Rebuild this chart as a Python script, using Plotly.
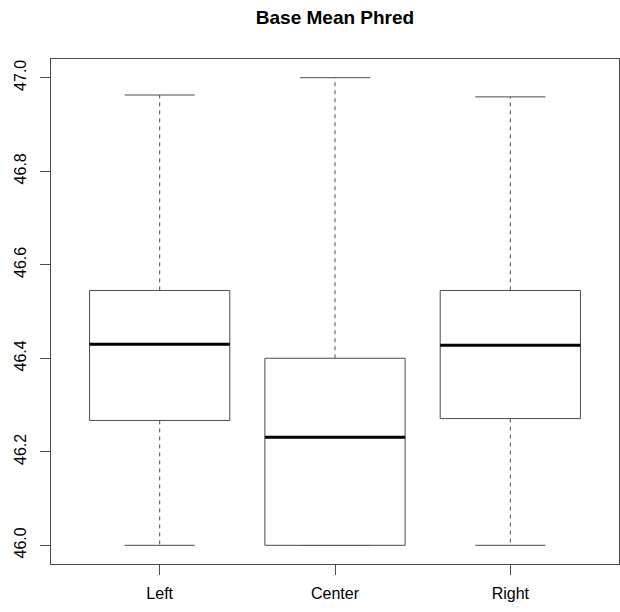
import plotly.graph_objects as go

# Five-number summaries of base mean Phred per read region
categories = ["Left", "Center", "Right"]
lower_whisker = [46.0, 46.0, 46.0]
q1 = [46.267, 46.0, 46.271]
median = [46.430, 46.231, 46.428]
q3 = [46.545, 46.400, 46.545]
upper_whisker = [46.963, 47.0, 46.959]
y_ticks = [46.0, 46.2, 46.4, 46.6, 46.8, 47.0]

LINE = "#4a4a4a"
BOX_HALF = 0.4
CAP_HALF = 0.2

fig = go.Figure()
for i, name in enumerate(categories):
    x = i + 1
    # dashed whiskers
    fig.add_trace(go.Scatter(
        x=[x, x, None, x, x],
        y=[q3[i], upper_whisker[i], None, q1[i], lower_whisker[i]],
        mode="lines", line=dict(color=LINE, width=1, dash="4px,4px"),
        hoverinfo="skip", showlegend=False))
    # whisker caps
    fig.add_trace(go.Scatter(
        x=[x - CAP_HALF, x + CAP_HALF, None, x - CAP_HALF, x + CAP_HALF],
        y=[upper_whisker[i], upper_whisker[i], None, lower_whisker[i], lower_whisker[i]],
        mode="lines", line=dict(color=LINE, width=1),
        hoverinfo="skip", showlegend=False))
    # box
    fig.add_trace(go.Scatter(
        x=[x - BOX_HALF, x + BOX_HALF, x + BOX_HALF, x - BOX_HALF, x - BOX_HALF],
        y=[q1[i], q1[i], q3[i], q3[i], q1[i]],
        mode="lines", line=dict(color=LINE, width=1),
        fill="toself", fillcolor="white",
        hoverinfo="skip", showlegend=False))
    # median
    fig.add_trace(go.Scatter(
        x=[x - BOX_HALF, x + BOX_HALF],
        y=[median[i], median[i]],
        mode="lines", line=dict(color="black", width=3),
        hoverinfo="skip", showlegend=False))

axis_common = dict(
    showline=True, linecolor=LINE, linewidth=1, mirror=True,
    ticks="outside", ticklen=10, tickcolor=LINE, tickwidth=1,
    showgrid=False, zeroline=False,
    tickfont=dict(family="Liberation Sans, Arial", size=16, color="black"),
)

fig.update_layout(
    width=620, height=612,
    margin=dict(l=51, r=1, t=59, b=48),
    paper_bgcolor="white", plot_bgcolor="white",
    title=dict(text="<b>Base Mean Phred</b>", x=(51 + 619) / 2 / 620, xanchor="center",
               y=1 - 17 / 612, yanchor="middle", yref="container",
               font=dict(family="Liberation Sans, Arial", size=19, color="black")),
    xaxis=dict(range=[0.38, 3.62], tickvals=[1, 2, 3], ticktext=categories,
               ticklabelstandoff=5, **axis_common),
    yaxis=dict(range=[45.96, 47.04], tickvals=y_ticks,
               ticktext=[f"{v:.1f}" for v in y_ticks], tickangle=-90,
               ticklabelstandoff=8, **axis_common),
)

fig.write_html("out.html")
